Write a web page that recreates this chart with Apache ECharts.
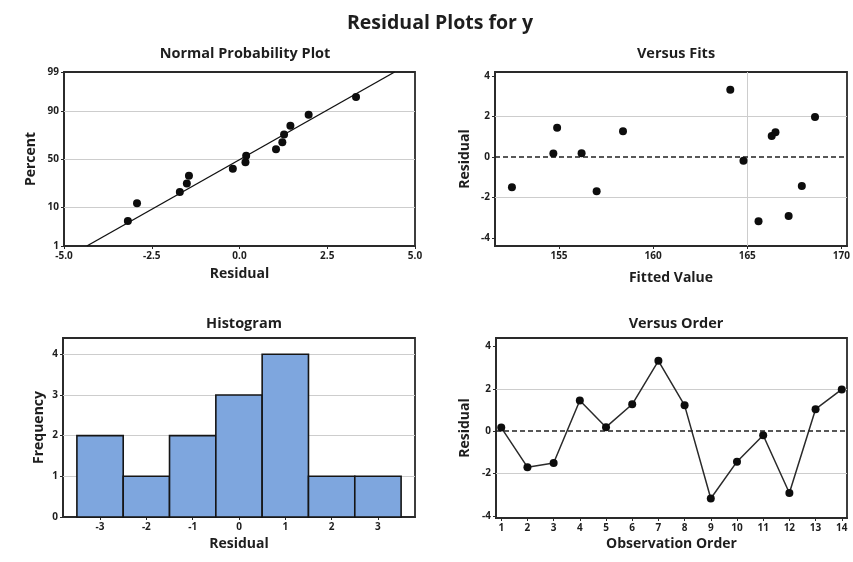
<!DOCTYPE html>
<html>
<head>
    <meta charset="utf-8">
    <title>Residual Plots for y</title>
    <script src="https://cdn.jsdelivr.net/npm/echarts@6/dist/echarts.min.js"></script>
    <style>
        html, body { margin: 0; padding: 0; background: #ffffff; }
        #main { width: 853px; height: 562px; }
    </style>
</head>
<body>
<div id="main"></div>
<script>
    // residuals, by observation order
    var obsOrder = [1, 2, 3, 4, 5, 6, 7, 8, 9, 10, 11, 12, 13, 14];
    var residuals = [0.17, -1.70, -1.50, 1.45, 0.19, 1.27, 3.32, 1.22, -3.18, -1.44, -0.19, -2.92, 1.04, 1.97];
    var fittedValues = [154.7, 157.0, 152.5, 154.9, 156.2, 158.4, 164.1, 166.5, 165.6, 167.9, 164.8, 167.2, 166.3, 168.6];

    // normal probability plot (percent, sorted residuals)
    var probPercent = [4.9, 11.8, 18.8, 25.7, 32.6, 39.6, 46.5, 53.5, 60.4, 67.4, 74.3, 81.3, 88.2, 95.1];
    var fitLineX = [-4.35, 4.42];
    var fitLinePct = [1, 99];
    var percentTicks = [1, 10, 50, 90, 99];

    // histogram
    var binCenters = [-3, -2, -1, 0, 1, 2, 3];
    var binCounts = [2, 1, 2, 3, 4, 1, 1];

    // 正态分位数 (Acklam)
    function probit(p) {
        var a = [-39.69683028665376, 220.9460984245205, -275.9285104469687, 138.3577518672690, -30.66479806614716, 2.506628277459239];
        var b = [-54.47609879822406, 161.5858368580409, -155.6989798598866, 66.80131188771972, -13.28068155211244];
        var c = [-0.007784894002430293, -0.3223964580411365, -2.400758277161838, -2.549732539343734, 4.374664141464968, 2.938163982698783];
        var d = [0.007784695709041462, 0.3224671290700398, 2.445134137142996, 3.754408661907416];
        var pl = 0.02425, q, r;
        if (p < pl) {
            q = Math.sqrt(-2 * Math.log(p));
            return (((((c[0]*q+c[1])*q+c[2])*q+c[3])*q+c[4])*q+c[5]) / ((((d[0]*q+d[1])*q+d[2])*q+d[3])*q+1);
        }
        if (p > 1 - pl) {
            q = Math.sqrt(-2 * Math.log(1 - p));
            return -(((((c[0]*q+c[1])*q+c[2])*q+c[3])*q+c[4])*q+c[5]) / ((((d[0]*q+d[1])*q+d[2])*q+d[3])*q+1);
        }
        q = p - 0.5; r = q * q;
        return (((((a[0]*r+a[1])*r+a[2])*r+a[3])*r+a[4])*r+a[5])*q / (((((b[0]*r+b[1])*r+b[2])*r+b[3])*r+b[4])*r+1);
    }

    var FONT = 'Open Sans';
    var INK = '#1e1e1e';
    var GRIDC = '#cdcdcd';

    var sortedRes = residuals.slice().sort(function (a, b) { return a - b; });
    var zTicks = percentTicks.map(function (p) { return probit(p / 100); });
    var zMin = zTicks[0], zMax = zTicks[zTicks.length - 1];

    // 网格线: 放在单独的空系列上, 在图形下面
    function gridSeries(xi, lines) {
        return {
            type: 'scatter',
            xAxisIndex: xi, yAxisIndex: xi,
            data: [],
            z: 1,
            markLine: {
                silent: true,
                z: 1,
                symbol: 'none',
                label: { show: false },
                data: lines.map(function (l) {
                    var o = {};
                    o[l[0]] = l[1];
                    o.lineStyle = l[2] === 'dash'
                        ? { color: '#222', type: [5, 3], width: 1.5 }
                        : { color: GRIDC, type: 'solid', width: 1 };
                    return o;
                })
            }
        };
    }

    function valAxis(gi, min, max, ticks, name, gap, fmt) {
        var label = { customValues: ticks, fontFamily: FONT, fontSize: 10, fontWeight: 'bold', color: INK, margin: 5 };
        if (fmt) label.formatter = fmt;
        return {
            type: 'value',
            gridIndex: gi,
            min: min,
            max: max,
            name: name,
            nameLocation: 'middle',
            nameGap: gap,
            nameTextStyle: { fontFamily: FONT, fontSize: 14, fontWeight: 'bold', color: INK },
            axisLine: { show: true, onZero: false, lineStyle: { color: '#2a2a2a', width: 1.8 } },
            axisTick: { show: true, length: 3, customValues: ticks, lineStyle: { color: '#2a2a2a' } },
            axisLabel: label,
            splitLine: { show: false }
        };
    }

    var titleStyle = { fontFamily: FONT, fontSize: 14.5, fontWeight: 'bold', color: INK };
    var boxStyle = { show: true, borderColor: '#2a2a2a', borderWidth: 1.8, backgroundColor: '#fff' };

    var chart = echarts.init(document.getElementById('main'));

    var option = {
        backgroundColor: '#ffffff',
        animation: false,
        title: [
            { text: 'Residual Plots for y', left: 435, top: 8, textAlign: 'center',
              textStyle: { fontFamily: FONT, fontSize: 19.5, fontWeight: 'bold', color: INK } },
            { text: 'Normal Probability Plot', left: 240, top: 41, textAlign: 'center', textStyle: titleStyle },
            { text: 'Versus Fits', left: 671, top: 41, textAlign: 'center', textStyle: titleStyle },
            { text: 'Histogram', left: 239, top: 311, textAlign: 'center', textStyle: titleStyle },
            { text: 'Versus Order', left: 671, top: 311, textAlign: 'center', textStyle: titleStyle }
        ],
        grid: [
            { left: 64, right: 438, top: 72, height: 174 },
            { left: 495, right: 6, top: 72, height: 174 },
            { left: 63, right: 438, top: 338, height: 179 },
            { left: 496, right: 6, top: 338, height: 180 }
        ].map(function (g) { for (var k in boxStyle) g[k] = boxStyle[k]; return g; }),
        xAxis: [
            valAxis(0, -5, 5, [-5, -2.5, 0, 2.5, 5], 'Residual', 21, function (v) { return v.toFixed(1); }),
            valAxis(1, 151.6, 170.3, [155, 160, 165, 170], 'Fitted Value', 25),
            valAxis(2, -3.8, 3.8, binCenters, 'Residual', 20),
            valAxis(3, 0.8, 14.2, obsOrder, 'Observation Order', 19)
        ],
        yAxis: [
            valAxis(0, zMin, zMax, zTicks, 'Percent', 26, function (v) {
                var best = 0;
                for (var i = 0; i < zTicks.length; i++) {
                    if (Math.abs(zTicks[i] - v) < Math.abs(zTicks[best] - v)) best = i;
                }
                return String(percentTicks[best]);
            }),
            valAxis(1, -4.4, 4.2, [-4, -2, 0, 2, 4], 'Residual', 23),
            valAxis(2, 0, 4.4, [0, 1, 2, 3, 4], 'Frequency', 17),
            valAxis(3, -4.1, 4.4, [-4, -2, 0, 2, 4], 'Residual', 24)
        ],
        series: [
            gridSeries(0, [['yAxis', zTicks[1]], ['yAxis', zTicks[2]], ['yAxis', zTicks[3]]]),
            gridSeries(1, [['yAxis', 2], ['yAxis', -2], ['xAxis', 165], ['yAxis', 0, 'dash']]),
            gridSeries(2, [['yAxis', 1], ['yAxis', 2], ['yAxis', 3], ['yAxis', 4]]),
            gridSeries(3, [['yAxis', 2], ['yAxis', -2], ['yAxis', 0, 'dash']]),
            // 正态概率图
            {
                type: 'line',
                xAxisIndex: 0, yAxisIndex: 0,
                data: fitLineX.map(function (x, i) { return [x, probit(fitLinePct[i] / 100)]; }),
                showSymbol: false,
                lineStyle: { color: '#111', width: 1.4 },
                z: 3
            },
            {
                type: 'scatter',
                xAxisIndex: 0, yAxisIndex: 0,
                data: sortedRes.map(function (r, i) { return [r, probit(probPercent[i] / 100)]; }),
                symbolSize: 8,
                itemStyle: { color: '#0d0d0d', opacity: 1 },
                z: 4
            },
            // versus fits
            {
                type: 'scatter',
                xAxisIndex: 1, yAxisIndex: 1,
                data: fittedValues.map(function (f, i) { return [f, residuals[i]]; }),
                symbolSize: 8,
                itemStyle: { color: '#0d0d0d', opacity: 1 },
                z: 4
            },
            // histogram
            {
                type: 'custom',
                xAxisIndex: 2, yAxisIndex: 2,
                data: binCenters.map(function (c, i) { return [c, binCounts[i]]; }),
                renderItem: function (params, api) {
                    var c = api.value(0), n = api.value(1);
                    var p0 = api.coord([c - 0.5, 0]);
                    var p1 = api.coord([c + 0.5, n]);
                    return {
                        type: 'rect',
                        shape: { x: p0[0], y: p1[1], width: p1[0] - p0[0], height: p0[1] - p1[1] },
                        style: { fill: '#7ea6de', stroke: '#151515', lineWidth: 1.6 }
                    };
                },
                z: 3
            },
            // versus order
            {
                type: 'line',
                xAxisIndex: 3, yAxisIndex: 3,
                data: obsOrder.map(function (o, i) { return [o, residuals[i]]; }),
                symbol: 'circle',
                symbolSize: 8,
                itemStyle: { color: '#0d0d0d', opacity: 1 },
                lineStyle: { color: '#2a2a2a', width: 1.5 },
                z: 4
            }
        ]
    };
    chart.setOption(option);
</script>
</body>
</html>
